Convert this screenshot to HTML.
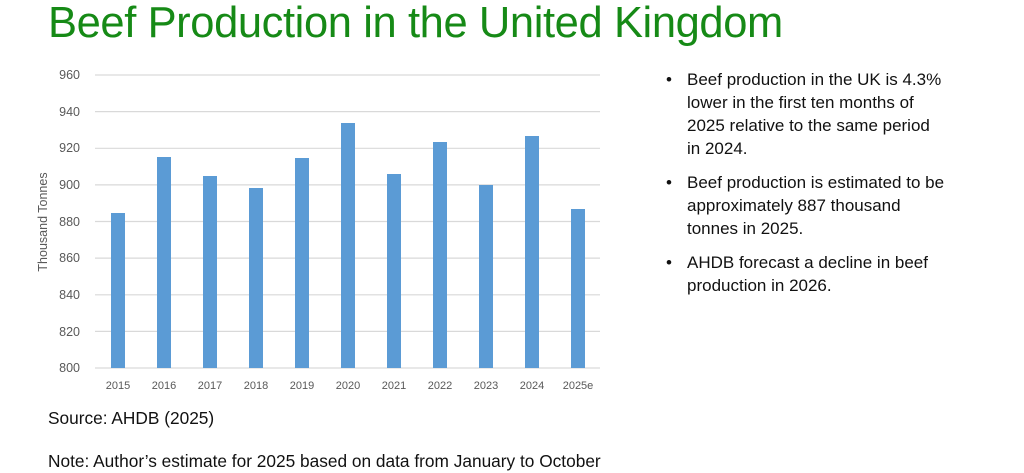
<!DOCTYPE html>
<html><head><meta charset="utf-8"><style>
body{margin:0;width:1024px;height:473px;background:#fff;font-family:"Liberation Sans",sans-serif;position:relative;overflow:hidden}
.t{position:absolute;left:48px;top:-1px;font-size:43.5px;color:#168a16;letter-spacing:-0.4px;white-space:nowrap}
ul{position:absolute;left:666px;top:68px;margin:0;padding:0;list-style:none;font-size:17px;line-height:23px;color:#111;white-space:nowrap}
li{position:relative;padding-left:21px;margin-bottom:11px}
li:before{content:"•";position:absolute;left:0}
.s{position:absolute;left:48px;font-size:17.3px;color:#111;white-space:nowrap}
</style></head><body>
<div class="t">Beef Production in the United Kingdom</div>
<svg width="1024" height="473" style="position:absolute;left:0;top:0" font-family="Liberation Sans, sans-serif">
<g stroke="#d9d9d9" stroke-width="1.2">
<line x1="95" x2="600" y1="75" y2="75"/><line x1="95" x2="600" y1="111.6" y2="111.6"/><line x1="95" x2="600" y1="148.3" y2="148.3"/><line x1="95" x2="600" y1="184.9" y2="184.9"/><line x1="95" x2="600" y1="221.5" y2="221.5"/><line x1="95" x2="600" y1="258.1" y2="258.1"/><line x1="95" x2="600" y1="294.8" y2="294.8"/><line x1="95" x2="600" y1="331.4" y2="331.4"/><line x1="95" x2="600" y1="368" y2="368"/>
</g>
<g font-size="12.5" fill="#595959" text-anchor="end">
<text x="80" y="79">960</text><text x="80" y="116">940</text><text x="80" y="152">920</text><text x="80" y="189">900</text><text x="80" y="226">880</text><text x="80" y="262">860</text><text x="80" y="299">840</text><text x="80" y="336">820</text><text x="80" y="372">800</text>
</g>
<text transform="translate(47,222) rotate(-90)" font-size="12.5" fill="#595959" text-anchor="middle">Thousand Tonnes</text>
<g fill="#5b9bd5">
<rect x="111" y="213" width="14" height="155"/>
<rect x="157" y="157" width="14" height="211"/>
<rect x="203" y="176" width="14" height="192"/>
<rect x="249" y="188" width="14" height="180"/>
<rect x="295" y="158" width="14" height="210"/>
<rect x="341" y="123" width="14" height="245"/>
<rect x="387" y="174" width="14" height="194"/>
<rect x="433" y="142" width="14" height="226"/>
<rect x="479" y="185" width="14" height="183"/>
<rect x="525" y="136" width="14" height="232"/>
<rect x="571" y="209" width="14" height="159"/>
</g>
<g font-size="11" fill="#595959" text-anchor="middle">
<text x="118" y="389">2015</text><text x="164" y="389">2016</text><text x="210" y="389">2017</text><text x="256" y="389">2018</text><text x="302" y="389">2019</text><text x="348" y="389">2020</text><text x="394" y="389">2021</text><text x="440" y="389">2022</text><text x="486" y="389">2023</text><text x="532" y="389">2024</text><text x="578" y="389">2025e</text>
</g>
</svg>
<ul>
<li>Beef production in the UK is 4.3%<br>lower in the first ten months of<br>2025 relative to the same period<br>in 2024.</li>
<li>Beef production is estimated to be<br>approximately 887 thousand<br>tonnes in 2025.</li>
<li>AHDB forecast a decline in beef<br>production in 2026.</li>
</ul>
<div class="s" style="top:408px">Source: AHDB (2025)</div>
<div class="s" style="top:451px">Note: Author’s estimate for 2025 based on data from January to October</div>
</body></html>
